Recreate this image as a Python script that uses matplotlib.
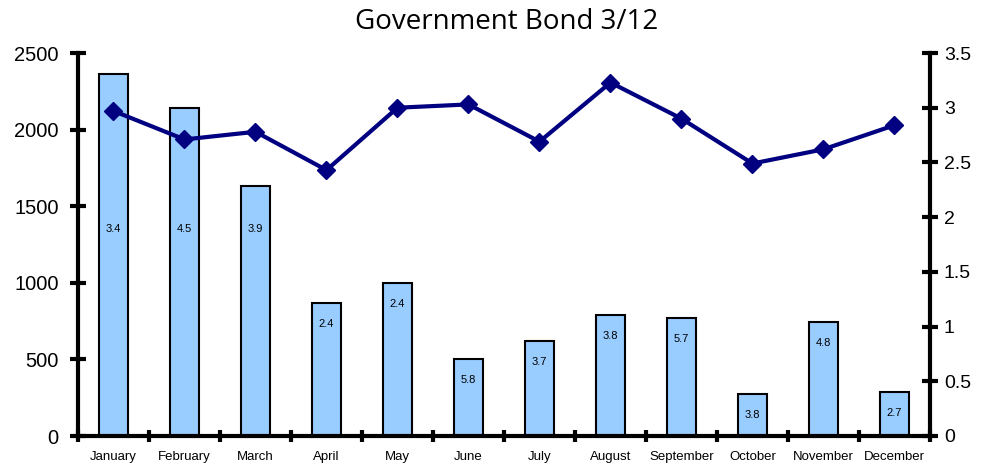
import numpy as np
import matplotlib
matplotlib.use("Agg")
import matplotlib.pyplot as plt
from matplotlib.ticker import MultipleLocator, FixedLocator

# Donnees
months = ["January", "February", "March", "April", "May", "June", "July",
          "August", "September", "October", "November", "December"]
volume = [2365, 2140, 1630, 868, 1000, 503, 620, 790, 770, 274, 744, 287]
yields = [2.97, 2.71, 2.78, 2.43, 3.00, 3.03, 2.69, 3.23, 2.90, 2.49, 2.62, 2.84]
bar_labels = ["3.4", "4.5", "3.9", "2.4", "2.4", "5.8", "3.7", "3.8", "5.7", "3.8", "4.8", "2.7"]

BAR_COLOR = "#99CCFF"
LINE_COLOR = "#000080"

plt.rcParams["font.family"] = ["Liberation Sans", "DejaVu Sans"]

fig = plt.figure(figsize=(9.82, 4.66), dpi=100)
ax = fig.add_axes([78 / 982, 30 / 466, (930 - 78) / 982, (436 - 53) / 466])
x = np.arange(len(months))

ax.bar(x, volume, width=0.42, color=BAR_COLOR, edgecolor="black", linewidth=1.5, zorder=2)
for xi, v, lab in zip(x, volume, bar_labels):
    ax.text(xi, min(v - 140, 1350), lab, ha="center", va="center", fontsize=8, zorder=3)

ax.set_xlim(-0.5, len(months) - 0.5)
ax.set_ylim(0, 2500)
ax.yaxis.set_major_locator(MultipleLocator(500))
ax.set_xticks(x)
ax.set_xticklabels(months, fontsize=9.5)
ax.xaxis.set_minor_locator(FixedLocator(np.arange(-0.5, len(months), 1.0)))
ax.tick_params(axis="x", which="major", length=0, pad=11)
ax.tick_params(axis="x", which="minor", direction="inout", length=9, width=3)
ax.tick_params(axis="y", direction="inout", length=12, width=3, labelsize=14.5, pad=8)

for side in ["top", "right"]:
    ax.spines[side].set_visible(False)
for side in ["left", "bottom"]:
    ax.spines[side].set_linewidth(3)

ax2 = ax.twinx()
ax2.plot(x, yields, color=LINE_COLOR, linewidth=3, marker="D", markersize=9, zorder=4)
ax2.set_ylim(0, 3.5)
ax2.set_yticks(np.arange(0, 3.51, 0.5))
ax2.set_yticklabels(["0", "0.5", "1", "1.5", "2", "2.5", "3", "3.5"])
ax2.tick_params(axis="y", direction="inout", length=12, width=3, labelsize=14, pad=4)
for side in ["top", "left", "bottom"]:
    ax2.spines[side].set_visible(False)
ax2.spines["right"].set_linewidth(3)

fig.text(0.516, 0.953, "Government Bond 3/12", ha="center", va="center",
         fontsize=20, family=["Open Sans", "DejaVu Sans"])

fig.savefig("out.png", dpi=100)
